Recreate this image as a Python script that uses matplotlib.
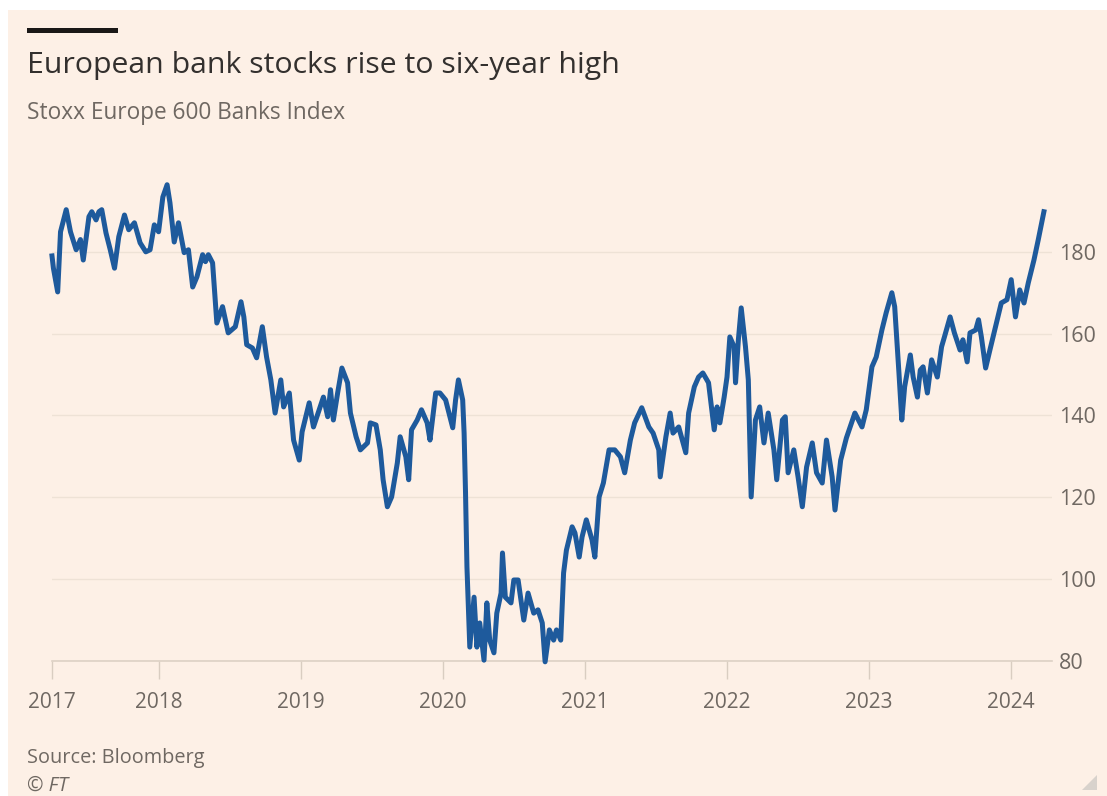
import matplotlib
matplotlib.use("Agg")
import matplotlib.pyplot as plt
from matplotlib.patches import Rectangle, Polygon

# Stoxx Europe 600 Banks index, decimal year vs index level
years = [
    2017.25, 2017.26, 2017.29, 2017.31, 2017.35, 2017.38, 2017.42, 2017.45, 2017.47, 2017.51,
    2017.53, 2017.56, 2017.58, 2017.60, 2017.63, 2017.66, 2017.69, 2017.72, 2017.76, 2017.79,
    2017.83, 2017.87, 2017.91, 2017.94, 2017.97, 2018.00, 2018.03, 2018.06, 2018.08, 2018.11,
    2018.14, 2018.18, 2018.21, 2018.24, 2018.27, 2018.31, 2018.33, 2018.35, 2018.38, 2018.41,
    2018.45, 2018.49, 2018.54, 2018.58, 2018.60, 2018.62, 2018.66, 2018.69, 2018.73, 2018.76,
    2018.79, 2018.82, 2018.86, 2018.88, 2018.92, 2018.95, 2018.99, 2019.01, 2019.06, 2019.09,
    2019.13, 2019.16, 2019.19, 2019.21, 2019.23, 2019.26, 2019.29, 2019.33, 2019.35, 2019.39,
    2019.42, 2019.47, 2019.49, 2019.53, 2019.56, 2019.58, 2019.61, 2019.64, 2019.68, 2019.70,
    2019.74, 2019.76, 2019.78, 2019.82, 2019.85, 2019.89, 2019.91, 2019.95, 2019.98, 2020.02,
    2020.07, 2020.09, 2020.11, 2020.14, 2020.15, 2020.16, 2020.17, 2020.19, 2020.22, 2020.24,
    2020.26, 2020.29, 2020.31, 2020.33, 2020.36, 2020.38, 2020.41, 2020.42, 2020.44, 2020.48,
    2020.50, 2020.53, 2020.57, 2020.60, 2020.64, 2020.67, 2020.70, 2020.72, 2020.75, 2020.78,
    2020.80, 2020.83, 2020.85, 2020.87, 2020.91, 2020.93, 2020.96, 2020.98, 2021.01, 2021.05,
    2021.07, 2021.10, 2021.13, 2021.17, 2021.21, 2021.25, 2021.28, 2021.32, 2021.35, 2021.40,
    2021.45, 2021.48, 2021.52, 2021.53, 2021.57, 2021.60, 2021.62, 2021.66, 2021.71, 2021.73,
    2021.77, 2021.80, 2021.83, 2021.87, 2021.91, 2021.93, 2021.95, 2021.98, 2022.00, 2022.02,
    2022.05, 2022.06, 2022.08, 2022.10, 2022.13, 2022.15, 2022.16, 2022.17, 2022.20, 2022.23,
    2022.26, 2022.29, 2022.33, 2022.35, 2022.39, 2022.41, 2022.43, 2022.47, 2022.50, 2022.53,
    2022.56, 2022.60, 2022.63, 2022.67, 2022.70, 2022.74, 2022.76, 2022.80, 2022.84, 2022.90,
    2022.95, 2022.98, 2023.02, 2023.05, 2023.09, 2023.12, 2023.16, 2023.18, 2023.21, 2023.23,
    2023.25, 2023.29, 2023.31, 2023.34, 2023.36, 2023.38, 2023.41, 2023.44, 2023.48, 2023.51,
    2023.53, 2023.57, 2023.60, 2023.64, 2023.66, 2023.69, 2023.71, 2023.75, 2023.77, 2023.79,
    2023.82, 2023.85, 2023.89, 2023.93, 2023.97, 2024.00, 2024.03, 2024.06, 2024.09, 2024.12,
    2024.16, 2024.19, 2024.23,
]
index_level = [
    179.0, 176.0, 170.2, 184.9, 190.3, 184.9, 180.5, 183.0, 178.0, 188.6,
    189.8, 187.8, 189.8, 190.3, 184.6, 180.5, 176.0, 183.7, 189.0, 185.4,
    187.1, 182.2, 180.0, 180.5, 186.6, 184.9, 193.4, 196.4, 192.0, 182.4,
    187.1, 179.8, 180.5, 171.4, 173.9, 179.3, 177.6, 179.3, 177.3, 162.6,
    166.6, 160.2, 161.7, 167.8, 164.1, 157.3, 156.5, 154.1, 161.7, 154.3,
    148.7, 140.6, 148.7, 142.1, 145.5, 134.0, 129.1, 136.0, 143.1, 137.2,
    141.4, 144.5, 139.7, 146.3, 138.9, 145.5, 151.6, 148.0, 140.6, 134.8,
    131.6, 133.3, 138.2, 137.7, 131.6, 124.3, 117.7, 120.1, 128.4, 134.8,
    129.9, 124.3, 136.5, 138.9, 141.4, 138.2, 134.0, 145.5, 145.5, 143.8,
    137.0, 143.8, 148.7, 143.8, 135.7, 121.1, 103.0, 83.4, 95.6, 83.4,
    89.3, 80.2, 94.2, 85.1, 82.0, 91.7, 96.6, 106.4, 95.6, 94.2,
    99.8, 99.8, 90.0, 96.6, 91.7, 92.5, 89.3, 79.8, 87.6, 85.1,
    87.6, 85.1, 101.5, 107.1, 112.8, 111.3, 105.4, 110.3, 114.5, 109.6,
    105.4, 120.1, 123.5, 131.6, 131.6, 129.9, 126.0, 134.0, 138.2, 141.9,
    137.2, 135.7, 131.6, 125.0, 134.8, 140.6, 135.7, 137.2, 130.9, 140.6,
    147.0, 149.4, 150.4, 148.0, 136.5, 142.1, 138.2, 144.5, 149.4, 159.2,
    156.8, 148.0, 158.5, 166.3, 156.8, 148.7, 134.0, 120.1, 138.9, 142.1,
    133.3, 140.6, 131.6, 124.3, 138.9, 139.7, 126.0, 131.6, 125.0, 117.7,
    127.4, 133.3, 126.0, 123.5, 134.0, 125.0, 116.9, 129.1, 134.5, 140.6,
    137.2, 141.4, 151.9, 154.3, 160.9, 165.1, 170.0, 166.6, 150.4, 138.9,
    147.0, 154.8, 149.4, 144.5, 151.1, 151.9, 145.5, 153.6, 149.4, 156.8,
    159.2, 164.1, 160.2, 156.0, 158.5, 153.1, 160.2, 160.9, 163.4, 159.2,
    151.6, 156.0, 161.7, 167.5, 168.3, 173.2, 164.1, 170.7, 167.5, 172.4,
    178.0, 182.9, 189.8,
]

x_ticks = [2017.25, 2018, 2019, 2020, 2021, 2022, 2023, 2024]
x_labels = ["2017", "2018", "2019", "2020", "2021", "2022", "2023", "2024"]
y_ticks = [80, 100, 120, 140, 160, 180]

BG = "#FDF0E6"
LINE = "#1E5A9C"
GREY = "#6F6862"
GRID = "#EEE2D6"

plt.rcParams["font.family"] = ["Open Sans", "DejaVu Sans"]

fig = plt.figure(figsize=(11.07, 7.96), dpi=100)
fig.patch.set_facecolor("white")
# cream panel with a thin white edge on the top and left
fig.patches.append(Rectangle((8 / 1107, 0), 1, 1 - 10 / 796, transform=fig.transFigure,
                             facecolor=BG, edgecolor="none", zorder=-1))

ax = fig.add_axes([52 / 1107, 1 - 661 / 796, (1052 - 52) / 1107, (661 - 170) / 796])
ax.set_facecolor(BG)
ax.plot(years, index_level, color=LINE, lw=3.6, solid_joinstyle="round",
        clip_on=False, zorder=3)

ax.set_xlim(2017.25, 2024.287)
ax.set_ylim(80, 200)
ax.set_xticks(x_ticks)
ax.set_xticklabels(x_labels)
ax.set_yticks(y_ticks)
ax.yaxis.tick_right()
ax.grid(axis="y", color=GRID, lw=1.0)
ax.set_axisbelow(True)
for side in ["top", "right", "left"]:
    ax.spines[side].set_visible(False)
ax.spines["bottom"].set_color("#DDD1C5")
ax.spines["bottom"].set_linewidth(1.2)
ax.tick_params(axis="x", length=13, width=1, color="#D9CDC1", labelsize=15,
               labelcolor=GREY, pad=9)
ax.tick_params(axis="y", length=0, labelsize=15.5, labelcolor=GREY, pad=5)

# headline block
fig.patches.append(Rectangle((27 / 1107, 1 - 33 / 796), 91 / 1107, 5 / 796,
                             transform=fig.transFigure, facecolor="#1A1817",
                             edgecolor="none"))
fig.text(27 / 1107, 1 - 66 / 796, "European bank stocks rise to six-year high",
         fontsize=21.8, color="#33302E", va="center", ha="left")
fig.text(27 / 1107, 1 - 113 / 796, "Stoxx Europe 600 Banks Index",
         fontsize=16.3, color=GREY, va="center", ha="left")

fig.text(27 / 1107, 1 - 758 / 796, "Source: Bloomberg",
         fontsize=14.3, color=GREY, va="center", ha="left")
fig.text(27 / 1107, 1 - 786 / 796, "© FT", fontsize=14.3, color=GREY,
         style="italic", va="center", ha="left")

# resize grip in the corner
fig.patches.append(Polygon([(1097 / 1107, 1 - 790 / 796), (1097 / 1107, 1 - 775 / 796),
                            (1082 / 1107, 1 - 790 / 796)], closed=True,
                           transform=fig.transFigure, facecolor="#D8D2CC",
                           edgecolor="none"))

fig.savefig("out.png", dpi=100, facecolor=fig.get_facecolor())
